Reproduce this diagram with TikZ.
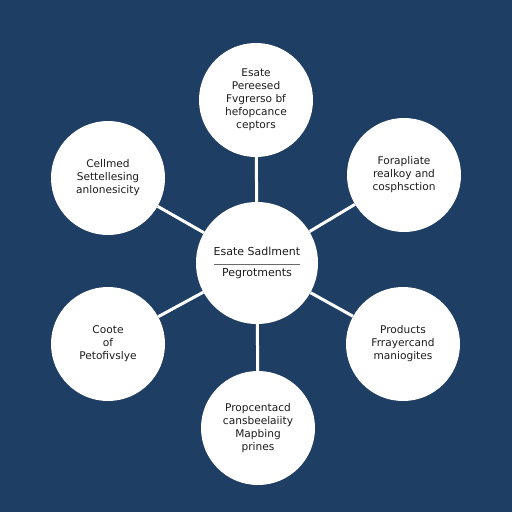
\documentclass[tikz,border=0pt]{standalone}
\usepackage{fontspec}
\setmainfont{DejaVu Sans}
\definecolor{bg}{HTML}{1F3E64}
\definecolor{txt}{HTML}{1C1C1C}
\definecolor{rulec}{HTML}{6A6A6A}
\begin{document}
\begin{tikzpicture}[x=1pt,y=-1pt,
  circ/.style={circle, fill=white, minimum size=114pt, inner sep=0pt, align=center,
    text=txt, font=\fontsize{10.6}{13}\selectfont},
  hub/.style={circle, fill=white, minimum size=122pt, inner sep=0pt, align=center,
    text=txt, font=\fontsize{11}{21}\selectfont},
  conn/.style={white, line width=3pt}]
\fill[bg] (0,0) rectangle (512,512);
\useasboundingbox (0,0) rectangle (512,512);
\node[hub] (c) at (257,263) {Esate Sadlment\\Pegrotments};
\draw[rulec, line width=0.8pt] ([xshift=-43pt,yshift=-1pt]c.center) -- ([xshift=43pt,yshift=-1pt]c.center);
\node[circ] (t) at (256,100) {Esate\\Pereesed\\Fvgrerso bf\\hefopcance\\ceptors};
\node[circ] (tl) at (108,178) {Cellmed\\Settellesing\\anlonesicity};
\node[circ] (tr) at (404,175) {Forapliate\\realkoy and\\cosphsction};
\node[circ] (bl) at (108,344) {Coote\\of\\Petofivslye};
\node[circ] (br) at (403,344) {Products\\Frrayercand\\maniogites};
\node[circ] (b) at (258,428) {Propcentacd\\cansbeelaiity\\Mapbing\\prines};
\draw[conn] (c) -- (t);
\draw[conn] (c) -- (tl);
\draw[conn] (c) -- (tr);
\draw[conn] (c) -- (bl);
\draw[conn] (c) -- (br);
\draw[conn] (c) -- (b);
\end{tikzpicture}
\end{document}
